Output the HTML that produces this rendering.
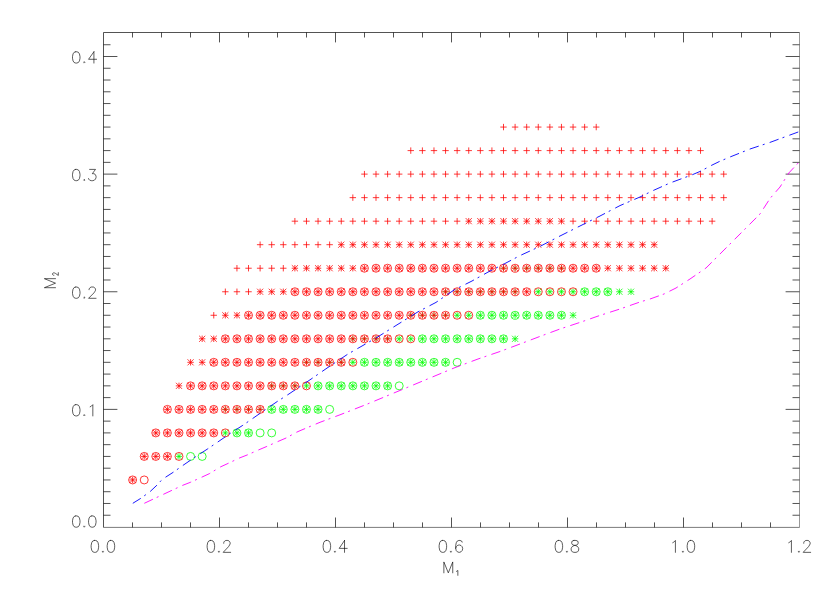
<!DOCTYPE html>
<html><head><meta charset="utf-8"><title>M1-M2</title>
<style>
html,body{margin:0;padding:0;background:#fff;}
body{width:830px;height:593px;overflow:hidden;font-family:"Liberation Sans",sans-serif;}
svg{display:block}
</style></head><body>
<svg width="830" height="593" viewBox="0 0 830 593">
<rect width="830" height="593" fill="#fff"/>
<g fill="none" stroke="#000" stroke-width="0.8" stroke-opacity="0.85">
<path d="M103.5 527.4V32.5H799.5"/>
<path stroke-opacity="0.5" d="M799.5 32.5V527.4"/>
<path stroke-opacity="0.65" d="M103.5 527.4H799.5"/>
<path d="M132.5 527.4v-5.0M132.5 32.5v5.0M161.5 527.4v-5.0M161.5 32.5v5.0M190.5 527.4v-5.0M190.5 32.5v5.0M219.5 527.4v-9.9M219.5 32.5v9.9M248.5 527.4v-5.0M248.5 32.5v5.0M277.5 527.4v-5.0M277.5 32.5v5.0M306.5 527.4v-5.0M306.5 32.5v5.0M335.5 527.4v-9.9M335.5 32.5v9.9M364.5 527.4v-5.0M364.5 32.5v5.0M393.5 527.4v-5.0M393.5 32.5v5.0M422.5 527.4v-5.0M422.5 32.5v5.0M451.5 527.4v-9.9M451.5 32.5v9.9M480.5 527.4v-5.0M480.5 32.5v5.0M509.5 527.4v-5.0M509.5 32.5v5.0M538.5 527.4v-5.0M538.5 32.5v5.0M567.5 527.4v-9.9M567.5 32.5v9.9M596.5 527.4v-5.0M596.5 32.5v5.0M625.5 527.4v-5.0M625.5 32.5v5.0M654.5 527.4v-5.0M654.5 32.5v5.0M683.5 527.4v-9.9M683.5 32.5v9.9M712.5 527.4v-5.0M712.5 32.5v5.0M741.5 527.4v-5.0M741.5 32.5v5.0M770.5 527.4v-5.0M770.5 32.5v5.0M103.5 515.24h7.0M799.5 515.24h-7.0M103.5 503.48h7.0M799.5 503.48h-7.0M103.5 491.71h7.0M799.5 491.71h-7.0M103.5 479.95h7.0M799.5 479.95h-7.0M103.5 468.19h7.0M799.5 468.19h-7.0M103.5 456.43h7.0M799.5 456.43h-7.0M103.5 444.66h7.0M799.5 444.66h-7.0M103.5 432.90h7.0M799.5 432.90h-7.0M103.5 421.14h7.0M799.5 421.14h-7.0M103.5 409.38h13.9M799.5 409.38h-13.9M103.5 397.61h7.0M799.5 397.61h-7.0M103.5 385.85h7.0M799.5 385.85h-7.0M103.5 374.09h7.0M799.5 374.09h-7.0M103.5 362.32h7.0M799.5 362.32h-7.0M103.5 350.56h7.0M799.5 350.56h-7.0M103.5 338.80h7.0M799.5 338.80h-7.0M103.5 327.04h7.0M799.5 327.04h-7.0M103.5 315.27h7.0M799.5 315.27h-7.0M103.5 303.51h7.0M799.5 303.51h-7.0M103.5 291.75h13.9M799.5 291.75h-13.9M103.5 279.99h7.0M799.5 279.99h-7.0M103.5 268.22h7.0M799.5 268.22h-7.0M103.5 256.46h7.0M799.5 256.46h-7.0M103.5 244.70h7.0M799.5 244.70h-7.0M103.5 232.94h7.0M799.5 232.94h-7.0M103.5 221.17h7.0M799.5 221.17h-7.0M103.5 209.41h7.0M799.5 209.41h-7.0M103.5 197.65h7.0M799.5 197.65h-7.0M103.5 185.89h7.0M799.5 185.89h-7.0M103.5 174.12h13.9M799.5 174.12h-13.9M103.5 162.36h7.0M799.5 162.36h-7.0M103.5 150.60h7.0M799.5 150.60h-7.0M103.5 138.84h7.0M799.5 138.84h-7.0M103.5 127.07h7.0M799.5 127.07h-7.0M103.5 115.31h7.0M799.5 115.31h-7.0M103.5 103.55h7.0M799.5 103.55h-7.0M103.5 91.79h7.0M799.5 91.79h-7.0M103.5 80.02h7.0M799.5 80.02h-7.0M103.5 68.26h7.0M799.5 68.26h-7.0M103.5 56.50h13.9M799.5 56.50h-13.9M103.5 44.74h7.0M799.5 44.74h-7.0"/>
</g>
<g fill="none" stroke="#000" stroke-width="0.8" stroke-opacity="0.8" stroke-linecap="round" stroke-linejoin="round">
<path d="M94.34 540.44L92.73 541.01L91.67 542.71L91.13 545.55L91.13 547.25L91.67 550.08L92.73 551.78L94.34 552.35L95.41 552.35L97.02 551.78L98.09 550.08L98.62 547.25L98.62 545.55L98.09 542.71L97.02 541.01L95.41 540.44L94.34 540.44M102.90 551.22L102.37 551.78L102.90 552.35L103.44 551.78L102.90 551.22M110.39 540.44L108.78 541.01L107.72 542.71L107.18 545.55L107.18 547.25L107.72 550.08L108.78 551.78L110.39 552.35L111.46 552.35L113.06 551.78L114.14 550.08L114.67 547.25L114.67 545.55L114.14 542.71L113.06 541.01L111.46 540.44L110.39 540.44M210.34 540.44L208.74 541.01L207.66 542.71L207.13 545.55L207.13 547.25L207.66 550.08L208.74 551.78L210.34 552.35L211.41 552.35L213.02 551.78L214.09 550.08L214.62 547.25L214.62 545.55L214.09 542.71L213.02 541.01L211.41 540.44L210.34 540.44M218.90 551.22L218.36 551.78L218.90 552.35L219.44 551.78L218.90 551.22M223.71 543.28L223.71 542.71L224.25 541.58L224.78 541.01L225.85 540.44L227.99 540.44L229.06 541.01L229.60 541.58L230.13 542.71L230.13 543.85L229.60 544.98L228.53 546.68L223.18 552.35L230.67 552.35M326.34 540.44L324.73 541.01L323.66 542.71L323.13 545.55L323.13 547.25L323.66 550.08L324.73 551.78L326.34 552.35L327.41 552.35L329.01 551.78L330.08 550.08L330.62 547.25L330.62 545.55L330.08 542.71L329.01 541.01L327.41 540.44L326.34 540.44M334.90 551.22L334.36 551.78L334.90 552.35L335.43 551.78L334.90 551.22M344.53 540.44L339.18 548.38L347.20 548.38M344.53 540.44L344.53 552.35M442.34 540.44L440.73 541.01L439.66 542.71L439.13 545.55L439.13 547.25L439.66 550.08L440.73 551.78L442.34 552.35L443.41 552.35L445.01 551.78L446.08 550.08L446.62 547.25L446.62 545.55L446.08 542.71L445.01 541.01L443.41 540.44L442.34 540.44M450.90 551.22L450.36 551.78L450.90 552.35L451.43 551.78L450.90 551.22M462.13 542.14L461.60 541.01L460.00 540.44L458.93 540.44L457.32 541.01L456.25 542.71L455.71 545.55L455.71 548.38L456.25 550.65L457.32 551.78L458.93 552.35L459.46 552.35L461.06 551.78L462.13 550.65L462.67 548.95L462.67 548.38L462.13 546.68L461.06 545.55L459.46 544.98L458.93 544.98L457.32 545.55L456.25 546.68L455.71 548.38M558.34 540.44L556.74 541.01L555.66 542.71L555.13 545.55L555.13 547.25L555.66 550.08L556.74 551.78L558.34 552.35L559.41 552.35L561.01 551.78L562.08 550.08L562.62 547.25L562.62 545.55L562.08 542.71L561.01 541.01L559.41 540.44L558.34 540.44M566.90 551.22L566.37 551.78L566.90 552.35L567.44 551.78L566.90 551.22M573.86 540.44L572.25 541.01L571.72 542.14L571.72 543.28L572.25 544.41L573.32 544.98L575.46 545.55L577.07 546.11L578.13 547.25L578.67 548.38L578.67 550.08L578.13 551.22L577.60 551.78L576.00 552.35L573.86 552.35L572.25 551.78L571.72 551.22L571.18 550.08L571.18 548.38L571.72 547.25L572.79 546.11L574.39 545.55L576.53 544.98L577.60 544.41L578.13 543.28L578.13 542.14L577.60 541.01L576.00 540.44L573.86 540.44M672.74 542.71L673.80 542.14L675.41 540.44L675.41 552.35M682.90 551.22L682.37 551.78L682.90 552.35L683.44 551.78L682.90 551.22M690.39 540.44L688.79 541.01L687.72 542.71L687.18 545.55L687.18 547.25L687.72 550.08L688.79 551.78L690.39 552.35L691.46 552.35L693.07 551.78L694.13 550.08L694.67 547.25L694.67 545.55L694.13 542.71L693.07 541.01L691.46 540.44L690.39 540.44M788.74 542.71L789.80 542.14L791.41 540.44L791.41 552.35M798.90 551.22L798.37 551.78L798.90 552.35L799.44 551.78L798.90 551.22M803.72 543.28L803.72 542.71L804.25 541.58L804.79 541.01L805.86 540.44L808.00 540.44L809.07 541.01L809.60 541.58L810.13 542.71L810.13 543.85L809.60 544.98L808.53 546.68L803.18 552.35L810.67 552.35M75.72 515.92L74.11 516.46L73.04 518.07L72.51 520.76L72.51 522.37L73.04 525.05L74.11 526.66L75.72 527.20L76.79 527.20L78.39 526.66L79.46 525.05L80.00 522.37L80.00 520.76L79.46 518.07L78.39 516.46L76.79 515.92L75.72 515.92M84.28 526.13L83.74 526.66L84.28 527.20L84.81 526.66L84.28 526.13M91.77 515.92L90.16 516.46L89.09 518.07L88.56 520.76L88.56 522.37L89.09 525.05L90.16 526.66L91.77 527.20L92.84 527.20L94.44 526.66L95.51 525.05L96.05 522.37L96.05 520.76L95.51 518.07L94.44 516.46L92.84 515.92L91.77 515.92M75.72 404.65L74.11 405.19L73.04 406.80L72.51 409.48L72.51 411.09L73.04 413.78L74.11 415.39L75.72 415.93L76.79 415.93L78.39 415.39L79.46 413.78L80.00 411.09L80.00 409.48L79.46 406.80L78.39 405.19L76.79 404.65L75.72 404.65M84.28 414.85L83.74 415.39L84.28 415.93L84.81 415.39L84.28 414.85M90.16 406.80L91.23 406.26L92.84 404.65L92.84 415.93M75.72 287.02L74.11 287.56L73.04 289.17L72.51 291.86L72.51 293.47L73.04 296.15L74.11 297.76L75.72 298.30L76.79 298.30L78.39 297.76L79.46 296.15L80.00 293.47L80.00 291.86L79.46 289.17L78.39 287.56L76.79 287.02L75.72 287.02M84.28 297.23L83.74 297.76L84.28 298.30L84.81 297.76L84.28 297.23M89.09 289.71L89.09 289.17L89.62 288.10L90.16 287.56L91.23 287.02L93.37 287.02L94.44 287.56L94.98 288.10L95.51 289.17L95.51 290.25L94.98 291.32L93.91 292.93L88.56 298.30L96.05 298.30M75.72 169.40L74.11 169.94L73.04 171.55L72.51 174.23L72.51 175.84L73.04 178.53L74.11 180.14L75.72 180.68L76.79 180.68L78.39 180.14L79.46 178.53L80.00 175.84L80.00 174.23L79.46 171.55L78.39 169.94L76.79 169.40L75.72 169.40M84.28 179.60L83.74 180.14L84.28 180.68L84.81 180.14L84.28 179.60M89.62 169.40L95.51 169.40L92.30 173.69L93.91 173.69L94.98 174.23L95.51 174.77L96.05 176.38L96.05 177.45L95.51 179.06L94.44 180.14L92.84 180.68L91.23 180.68L89.62 180.14L89.09 179.60L88.56 178.53M75.72 51.77L74.11 52.31L73.04 53.92L72.51 56.61L72.51 58.22L73.04 60.90L74.11 62.51L75.72 63.05L76.79 63.05L78.39 62.51L79.46 60.90L80.00 58.22L80.00 56.61L79.46 53.92L78.39 52.31L76.79 51.77L75.72 51.77M84.28 61.98L83.74 62.51L84.28 63.05L84.81 62.51L84.28 61.98M93.91 51.77L88.56 59.29L96.58 59.29M93.91 51.77L93.91 63.05M443.86 572.85L443.86 561.93L448.30 572.85L452.74 561.93L452.74 572.85"/>
<path d="M456.50 571.36L457.04 571.12L457.85 570.42L457.85 575.35"/>
<g transform="translate(55.5 287.7) rotate(-90)"><path d="M0.00 0.00L0.00 -11.13L4.52 0.00L9.04 -11.13L9.04 0.00"/><path d="M12.45 -1.60L12.45 -1.88L12.65 -2.43L12.85 -2.70L13.25 -2.98L14.05 -2.98L14.45 -2.70L14.65 -2.43L14.85 -1.88L14.85 -1.33L14.65 -0.78L14.25 0.05L12.25 2.80L15.05 2.80"/></g>
</g>
<g fill="none" stroke-width="0.78">
<path stroke="#0f0" stroke-opacity="0.75" d="M222.15 409.38H228.54M225.34 406.18V412.57M233.74 409.38H240.13M236.94 406.18V412.57M245.33 409.38H251.72M248.53 406.18V412.57M256.92 409.38H263.31M260.12 406.18V412.57M268.50 385.85H274.90M271.70 382.65V389.05M280.10 385.85H286.50M283.30 382.65V389.05M291.69 385.85H298.08M294.88 382.65V389.05M303.28 362.32H309.68M306.48 359.12V365.52M314.87 362.32H321.26M318.06 359.12V365.52M326.45 362.32H332.85M329.65 359.12V365.52M338.05 362.32H344.44M341.25 359.12V365.52M349.64 338.80H356.04M352.84 335.60V342.00M361.23 338.80H367.63M364.43 335.60V342.00M372.81 338.80H379.21M376.01 335.60V342.00M384.41 338.80H390.81M387.61 335.60V342.00M407.58 315.27H413.98M410.78 312.07V318.47M419.18 315.27H425.57M422.38 312.07V318.47M430.77 315.27H437.17M433.97 312.07V318.47M442.35 315.27H448.75M445.55 312.07V318.47M442.35 291.75H448.75M445.55 288.55V294.95M453.94 291.75H460.34M457.14 288.55V294.95M465.54 291.75H471.94M468.74 288.55V294.95M477.13 291.75H483.53M480.33 288.55V294.95M488.72 291.75H495.12M491.92 288.55V294.95M500.31 291.75H506.70M503.50 288.55V294.95M511.90 291.75H518.30M515.10 288.55V294.95M500.31 268.23H506.70M503.50 265.03V271.43M511.90 268.23H518.30M515.10 265.03V271.43M523.48 268.23H529.88M526.68 265.03V271.43M535.07 268.23H541.48M538.27 265.03V271.43M546.66 268.23H553.07M549.87 265.03V271.43M558.25 268.23H564.66M561.46 265.03V271.43"/>
<path stroke="#f00" d="M129.43 479.95H135.82M132.62 476.75V483.15M129.57 476.90L135.68 483.00M129.57 483.00L135.68 476.90M141.02 456.43H147.41M144.22 453.23V459.62M141.16 453.38L147.27 459.48M141.16 459.48L147.27 453.38M152.61 456.43H159.00M155.81 453.23V459.62M152.75 453.38L158.86 459.48M152.75 459.48L158.86 453.38M164.20 456.43H170.59M167.40 453.23V459.62M164.34 453.38L170.45 459.48M164.34 459.48L170.45 453.38M152.61 432.90H159.00M155.81 429.70V436.10M152.75 429.85L158.86 435.95M152.75 435.95L158.86 429.85M164.20 432.90H170.59M167.40 429.70V436.10M164.34 429.85L170.45 435.95M164.34 435.95L170.45 429.85M175.79 432.90H182.19M178.99 429.70V436.10M175.94 429.85L182.04 435.95M175.94 435.95L182.04 429.85M187.38 432.90H193.77M190.57 429.70V436.10M187.52 429.85L193.62 435.95M187.52 435.95L193.62 429.85M198.97 432.90H205.37M202.17 429.70V436.10M199.12 429.85L205.22 435.95M199.12 435.95L205.22 429.85M210.56 432.90H216.95M213.75 429.70V436.10M210.70 429.85L216.81 435.95M210.70 435.95L216.81 429.85M164.20 409.38H170.59M167.40 406.18V412.57M164.34 406.32L170.45 412.43M164.34 412.43L170.45 406.32M175.79 409.38H182.19M178.99 406.18V412.57M175.94 406.32L182.04 412.43M175.94 412.43L182.04 406.32M187.38 409.38H193.77M190.57 406.18V412.57M187.52 406.32L193.62 412.43M187.52 412.43L193.62 406.32M198.97 409.38H205.37M202.17 406.18V412.57M199.12 406.32L205.22 412.43M199.12 412.43L205.22 406.32M210.56 409.38H216.95M213.75 406.18V412.57M210.70 406.32L216.81 412.43M210.70 412.43L216.81 406.32M222.15 409.38H228.54M225.34 406.18V412.57M222.29 406.32L228.40 412.43M222.29 412.43L228.40 406.32M233.74 409.38H240.13M236.94 406.18V412.57M233.88 406.32L239.99 412.43M233.88 412.43L239.99 406.32M245.33 409.38H251.72M248.53 406.18V412.57M245.47 406.32L251.58 412.43M245.47 412.43L251.58 406.32M256.92 409.38H263.31M260.12 406.18V412.57M257.06 406.32L263.17 412.43M257.06 412.43L263.17 406.32M175.79 385.85H182.19M178.99 382.65V389.05M175.94 382.80L182.04 388.90M175.94 388.90L182.04 382.80M187.38 385.85H193.77M190.57 382.65V389.05M187.52 382.80L193.62 388.90M187.52 388.90L193.62 382.80M198.97 385.85H205.37M202.17 382.65V389.05M199.12 382.80L205.22 388.90M199.12 388.90L205.22 382.80M210.56 385.85H216.95M213.75 382.65V389.05M210.70 382.80L216.81 388.90M210.70 388.90L216.81 382.80M222.15 385.85H228.54M225.34 382.65V389.05M222.29 382.80L228.40 388.90M222.29 388.90L228.40 382.80M233.74 385.85H240.13M236.94 382.65V389.05M233.88 382.80L239.99 388.90M233.88 388.90L239.99 382.80M245.33 385.85H251.72M248.53 382.65V389.05M245.47 382.80L251.58 388.90M245.47 388.90L251.58 382.80M256.92 385.85H263.31M260.12 382.65V389.05M257.06 382.80L263.17 388.90M257.06 388.90L263.17 382.80M268.50 385.85H274.90M271.70 382.65V389.05M268.65 382.80L274.75 388.90M268.65 388.90L274.75 382.80M280.10 385.85H286.50M283.30 382.65V389.05M280.25 382.80L286.35 388.90M280.25 388.90L286.35 382.80M291.69 385.85H298.08M294.88 382.65V389.05M291.83 382.80L297.94 388.90M291.83 388.90L297.94 382.80M187.38 362.32H193.77M190.57 359.12V365.52M187.52 359.27L193.62 365.38M187.52 365.38L193.62 359.27M198.97 362.32H205.37M202.17 359.12V365.52M199.12 359.27L205.22 365.38M199.12 365.38L205.22 359.27M210.56 362.32H216.95M213.75 359.12V365.52M210.70 359.27L216.81 365.38M210.70 365.38L216.81 359.27M222.15 362.32H228.54M225.34 359.12V365.52M222.29 359.27L228.40 365.38M222.29 365.38L228.40 359.27M233.74 362.32H240.13M236.94 359.12V365.52M233.88 359.27L239.99 365.38M233.88 365.38L239.99 359.27M245.33 362.32H251.72M248.53 359.12V365.52M245.47 359.27L251.58 365.38M245.47 365.38L251.58 359.27M256.92 362.32H263.31M260.12 359.12V365.52M257.06 359.27L263.17 365.38M257.06 365.38L263.17 359.27M268.50 362.32H274.90M271.70 359.12V365.52M268.65 359.27L274.75 365.38M268.65 365.38L274.75 359.27M280.10 362.32H286.50M283.30 359.12V365.52M280.25 359.27L286.35 365.38M280.25 365.38L286.35 359.27M291.69 362.32H298.08M294.88 359.12V365.52M291.83 359.27L297.94 365.38M291.83 365.38L297.94 359.27M303.28 362.32H309.68M306.48 359.12V365.52M303.43 359.27L309.53 365.38M303.43 365.38L309.53 359.27M314.87 362.32H321.26M318.06 359.12V365.52M315.01 359.27L321.12 365.38M315.01 365.38L321.12 359.27M326.45 362.32H332.85M329.65 359.12V365.52M326.60 359.27L332.70 365.38M326.60 365.38L332.70 359.27M338.05 362.32H344.44M341.25 359.12V365.52M338.19 359.27L344.30 365.38M338.19 365.38L344.30 359.27M198.97 338.80H205.37M202.17 335.60V342.00M199.12 335.75L205.22 341.85M199.12 341.85L205.22 335.75M210.56 338.80H216.95M213.75 335.60V342.00M210.70 335.75L216.81 341.85M210.70 341.85L216.81 335.75M222.15 338.80H228.54M225.34 335.60V342.00M222.29 335.75L228.40 341.85M222.29 341.85L228.40 335.75M233.74 338.80H240.13M236.94 335.60V342.00M233.88 335.75L239.99 341.85M233.88 341.85L239.99 335.75M245.33 338.80H251.72M248.53 335.60V342.00M245.47 335.75L251.58 341.85M245.47 341.85L251.58 335.75M256.92 338.80H263.31M260.12 335.60V342.00M257.06 335.75L263.17 341.85M257.06 341.85L263.17 335.75M268.50 338.80H274.90M271.70 335.60V342.00M268.65 335.75L274.75 341.85M268.65 341.85L274.75 335.75M280.10 338.80H286.50M283.30 335.60V342.00M280.25 335.75L286.35 341.85M280.25 341.85L286.35 335.75M291.69 338.80H298.08M294.88 335.60V342.00M291.83 335.75L297.94 341.85M291.83 341.85L297.94 335.75M303.28 338.80H309.68M306.48 335.60V342.00M303.43 335.75L309.53 341.85M303.43 341.85L309.53 335.75M314.87 338.80H321.26M318.06 335.60V342.00M315.01 335.75L321.12 341.85M315.01 341.85L321.12 335.75M326.45 338.80H332.85M329.65 335.60V342.00M326.60 335.75L332.70 341.85M326.60 341.85L332.70 335.75M338.05 338.80H344.44M341.25 335.60V342.00M338.19 335.75L344.30 341.85M338.19 341.85L344.30 335.75M349.64 338.80H356.04M352.84 335.60V342.00M349.79 335.75L355.89 341.85M349.79 341.85L355.89 335.75M361.23 338.80H367.63M364.43 335.60V342.00M361.38 335.75L367.48 341.85M361.38 341.85L367.48 335.75M372.81 338.80H379.21M376.01 335.60V342.00M372.96 335.75L379.06 341.85M372.96 341.85L379.06 335.75M384.41 338.80H390.81M387.61 335.60V342.00M384.56 335.75L390.66 341.85M384.56 341.85L390.66 335.75M210.56 315.27H216.95M213.75 312.07V318.47M222.15 315.27H228.54M225.34 312.07V318.47M222.29 312.22L228.40 318.32M222.29 318.32L228.40 312.22M233.74 315.27H240.13M236.94 312.07V318.47M233.88 312.22L239.99 318.32M233.88 318.32L239.99 312.22M245.33 315.27H251.72M248.53 312.07V318.47M245.47 312.22L251.58 318.32M245.47 318.32L251.58 312.22M256.92 315.27H263.31M260.12 312.07V318.47M257.06 312.22L263.17 318.32M257.06 318.32L263.17 312.22M268.50 315.27H274.90M271.70 312.07V318.47M268.65 312.22L274.75 318.32M268.65 318.32L274.75 312.22M280.10 315.27H286.50M283.30 312.07V318.47M280.25 312.22L286.35 318.32M280.25 318.32L286.35 312.22M291.69 315.27H298.08M294.88 312.07V318.47M291.83 312.22L297.94 318.32M291.83 318.32L297.94 312.22M303.28 315.27H309.68M306.48 312.07V318.47M303.43 312.22L309.53 318.32M303.43 318.32L309.53 312.22M314.87 315.27H321.26M318.06 312.07V318.47M315.01 312.22L321.12 318.32M315.01 318.32L321.12 312.22M326.45 315.27H332.85M329.65 312.07V318.47M326.60 312.22L332.70 318.32M326.60 318.32L332.70 312.22M338.05 315.27H344.44M341.25 312.07V318.47M338.19 312.22L344.30 318.32M338.19 318.32L344.30 312.22M349.64 315.27H356.04M352.84 312.07V318.47M349.79 312.22L355.89 318.32M349.79 318.32L355.89 312.22M361.23 315.27H367.63M364.43 312.07V318.47M361.38 312.22L367.48 318.32M361.38 318.32L367.48 312.22M372.81 315.27H379.21M376.01 312.07V318.47M372.96 312.22L379.06 318.32M372.96 318.32L379.06 312.22M384.41 315.27H390.81M387.61 312.07V318.47M384.56 312.22L390.66 318.32M384.56 318.32L390.66 312.22M396.00 315.27H402.40M399.20 312.07V318.47M396.15 312.22L402.25 318.32M396.15 318.32L402.25 312.22M407.58 315.27H413.98M410.78 312.07V318.47M407.73 312.22L413.83 318.32M407.73 318.32L413.83 312.22M419.18 315.27H425.57M422.38 312.07V318.47M419.32 312.22L425.43 318.32M419.32 318.32L425.43 312.22M430.77 315.27H437.17M433.97 312.07V318.47M430.92 312.22L437.02 318.32M430.92 318.32L437.02 312.22M442.35 315.27H448.75M445.55 312.07V318.47M442.50 312.22L448.60 318.32M442.50 318.32L448.60 312.22M222.15 291.75H228.54M225.34 288.55V294.95M233.74 291.75H240.13M236.94 288.55V294.95M245.33 291.75H251.72M248.53 288.55V294.95M256.92 291.75H263.31M260.12 288.55V294.95M257.06 288.70L263.17 294.80M257.06 294.80L263.17 288.70M268.50 291.75H274.90M271.70 288.55V294.95M268.65 288.70L274.75 294.80M268.65 294.80L274.75 288.70M280.10 291.75H286.50M283.30 288.55V294.95M280.25 288.70L286.35 294.80M280.25 294.80L286.35 288.70M291.69 291.75H298.08M294.88 288.55V294.95M291.83 288.70L297.94 294.80M291.83 294.80L297.94 288.70M303.28 291.75H309.68M306.48 288.55V294.95M303.43 288.70L309.53 294.80M303.43 294.80L309.53 288.70M314.87 291.75H321.26M318.06 288.55V294.95M315.01 288.70L321.12 294.80M315.01 294.80L321.12 288.70M326.45 291.75H332.85M329.65 288.55V294.95M326.60 288.70L332.70 294.80M326.60 294.80L332.70 288.70M338.05 291.75H344.44M341.25 288.55V294.95M338.19 288.70L344.30 294.80M338.19 294.80L344.30 288.70M349.64 291.75H356.04M352.84 288.55V294.95M349.79 288.70L355.89 294.80M349.79 294.80L355.89 288.70M361.23 291.75H367.63M364.43 288.55V294.95M361.38 288.70L367.48 294.80M361.38 294.80L367.48 288.70M372.81 291.75H379.21M376.01 288.55V294.95M372.96 288.70L379.06 294.80M372.96 294.80L379.06 288.70M384.41 291.75H390.81M387.61 288.55V294.95M384.56 288.70L390.66 294.80M384.56 294.80L390.66 288.70M396.00 291.75H402.40M399.20 288.55V294.95M396.15 288.70L402.25 294.80M396.15 294.80L402.25 288.70M407.58 291.75H413.98M410.78 288.55V294.95M407.73 288.70L413.83 294.80M407.73 294.80L413.83 288.70M419.18 291.75H425.57M422.38 288.55V294.95M419.32 288.70L425.43 294.80M419.32 294.80L425.43 288.70M430.77 291.75H437.17M433.97 288.55V294.95M430.92 288.70L437.02 294.80M430.92 294.80L437.02 288.70M442.35 291.75H448.75M445.55 288.55V294.95M442.50 288.70L448.60 294.80M442.50 294.80L448.60 288.70M453.94 291.75H460.34M457.14 288.55V294.95M454.09 288.70L460.19 294.80M454.09 294.80L460.19 288.70M465.54 291.75H471.94M468.74 288.55V294.95M465.69 288.70L471.79 294.80M465.69 294.80L471.79 288.70M477.13 291.75H483.53M480.33 288.55V294.95M477.28 288.70L483.38 294.80M477.28 294.80L483.38 288.70M488.72 291.75H495.12M491.92 288.55V294.95M488.87 288.70L494.97 294.80M488.87 294.80L494.97 288.70M500.31 291.75H506.70M503.50 288.55V294.95M500.45 288.70L506.56 294.80M500.45 294.80L506.56 288.70M511.90 291.75H518.30M515.10 288.55V294.95M512.05 288.70L518.14 294.80M512.05 294.80L518.14 288.70M523.48 291.75H529.88M526.68 288.55V294.95M523.63 288.70L529.73 294.80M523.63 294.80L529.73 288.70M233.74 268.23H240.13M236.94 265.03V271.43M245.33 268.23H251.72M248.53 265.03V271.43M256.92 268.23H263.31M260.12 265.03V271.43M268.50 268.23H274.90M271.70 265.03V271.43M280.10 268.23H286.50M283.30 265.03V271.43M291.69 268.23H298.08M294.88 265.03V271.43M291.83 265.18L297.94 271.28M291.83 271.28L297.94 265.18M303.28 268.23H309.68M306.48 265.03V271.43M303.43 265.18L309.53 271.28M303.43 271.28L309.53 265.18M314.87 268.23H321.26M318.06 265.03V271.43M315.01 265.18L321.12 271.28M315.01 271.28L321.12 265.18M326.45 268.23H332.85M329.65 265.03V271.43M326.60 265.18L332.70 271.28M326.60 271.28L332.70 265.18M338.05 268.23H344.44M341.25 265.03V271.43M338.19 265.18L344.30 271.28M338.19 271.28L344.30 265.18M349.64 268.23H356.04M352.84 265.03V271.43M349.79 265.18L355.89 271.28M349.79 271.28L355.89 265.18M361.23 268.23H367.63M364.43 265.03V271.43M361.38 265.18L367.48 271.28M361.38 271.28L367.48 265.18M372.81 268.23H379.21M376.01 265.03V271.43M372.96 265.18L379.06 271.28M372.96 271.28L379.06 265.18M384.41 268.23H390.81M387.61 265.03V271.43M384.56 265.18L390.66 271.28M384.56 271.28L390.66 265.18M396.00 268.23H402.40M399.20 265.03V271.43M396.15 265.18L402.25 271.28M396.15 271.28L402.25 265.18M407.58 268.23H413.98M410.78 265.03V271.43M407.73 265.18L413.83 271.28M407.73 271.28L413.83 265.18M419.18 268.23H425.57M422.38 265.03V271.43M419.32 265.18L425.43 271.28M419.32 271.28L425.43 265.18M430.77 268.23H437.17M433.97 265.03V271.43M430.92 265.18L437.02 271.28M430.92 271.28L437.02 265.18M442.35 268.23H448.75M445.55 265.03V271.43M442.50 265.18L448.60 271.28M442.50 271.28L448.60 265.18M453.94 268.23H460.34M457.14 265.03V271.43M454.09 265.18L460.19 271.28M454.09 271.28L460.19 265.18M465.54 268.23H471.94M468.74 265.03V271.43M465.69 265.18L471.79 271.28M465.69 271.28L471.79 265.18M477.13 268.23H483.53M480.33 265.03V271.43M477.28 265.18L483.38 271.28M477.28 271.28L483.38 265.18M488.72 268.23H495.12M491.92 265.03V271.43M488.87 265.18L494.97 271.28M488.87 271.28L494.97 265.18M500.31 268.23H506.70M503.50 265.03V271.43M500.45 265.18L506.56 271.28M500.45 271.28L506.56 265.18M511.90 268.23H518.30M515.10 265.03V271.43M512.05 265.18L518.14 271.28M512.05 271.28L518.14 265.18M523.48 268.23H529.88M526.68 265.03V271.43M523.63 265.18L529.73 271.28M523.63 271.28L529.73 265.18M535.07 268.23H541.48M538.27 265.03V271.43M535.23 265.18L541.32 271.28M535.23 271.28L541.32 265.18M546.66 268.23H553.07M549.87 265.03V271.43M546.82 265.18L552.91 271.28M546.82 271.28L552.91 265.18M558.25 268.23H564.66M561.46 265.03V271.43M558.41 265.18L564.50 271.28M558.41 271.28L564.50 265.18M569.85 268.23H576.25M573.05 265.03V271.43M570.00 265.18L576.10 271.28M570.00 271.28L576.10 265.18M581.43 268.23H587.84M584.63 265.03V271.43M581.59 265.18L587.68 271.28M581.59 271.28L587.68 265.18M593.02 268.23H599.43M596.23 265.03V271.43M593.18 265.18L599.27 271.28M593.18 271.28L599.27 265.18M604.62 268.23H611.02M607.82 265.03V271.43M604.77 265.18L610.87 271.28M604.77 271.28L610.87 265.18M616.20 268.23H622.61M619.40 265.03V271.43M616.36 265.18L622.45 271.28M616.36 271.28L622.45 265.18M627.79 268.23H634.20M631.00 265.03V271.43M627.95 265.18L634.04 271.28M627.95 271.28L634.04 265.18M639.38 268.23H645.79M642.59 265.03V271.43M639.54 265.18L645.63 271.28M639.54 271.28L645.63 265.18M650.97 268.23H657.38M654.17 265.03V271.43M651.12 265.18L657.22 271.28M651.12 271.28L657.22 265.18M662.56 268.23H668.97M665.76 265.03V271.43M662.72 265.18L668.81 271.28M662.72 271.28L668.81 265.18M256.92 244.70H263.31M260.12 241.50V247.90M268.50 244.70H274.90M271.70 241.50V247.90M280.10 244.70H286.50M283.30 241.50V247.90M291.69 244.70H298.08M294.88 241.50V247.90M303.28 244.70H309.68M306.48 241.50V247.90M314.87 244.70H321.26M318.06 241.50V247.90M326.45 244.70H332.85M329.65 241.50V247.90M338.05 244.70H344.44M341.25 241.50V247.90M338.19 241.65L344.30 247.75M338.19 247.75L344.30 241.65M349.64 244.70H356.04M352.84 241.50V247.90M349.79 241.65L355.89 247.75M349.79 247.75L355.89 241.65M361.23 244.70H367.63M364.43 241.50V247.90M361.38 241.65L367.48 247.75M361.38 247.75L367.48 241.65M372.81 244.70H379.21M376.01 241.50V247.90M372.96 241.65L379.06 247.75M372.96 247.75L379.06 241.65M384.41 244.70H390.81M387.61 241.50V247.90M384.56 241.65L390.66 247.75M384.56 247.75L390.66 241.65M396.00 244.70H402.40M399.20 241.50V247.90M396.15 241.65L402.25 247.75M396.15 247.75L402.25 241.65M407.58 244.70H413.98M410.78 241.50V247.90M407.73 241.65L413.83 247.75M407.73 247.75L413.83 241.65M419.18 244.70H425.57M422.38 241.50V247.90M419.32 241.65L425.43 247.75M419.32 247.75L425.43 241.65M430.77 244.70H437.17M433.97 241.50V247.90M430.92 241.65L437.02 247.75M430.92 247.75L437.02 241.65M442.35 244.70H448.75M445.55 241.50V247.90M442.50 241.65L448.60 247.75M442.50 247.75L448.60 241.65M453.94 244.70H460.34M457.14 241.50V247.90M454.09 241.65L460.19 247.75M454.09 247.75L460.19 241.65M465.54 244.70H471.94M468.74 241.50V247.90M465.69 241.65L471.79 247.75M465.69 247.75L471.79 241.65M477.13 244.70H483.53M480.33 241.50V247.90M477.28 241.65L483.38 247.75M477.28 247.75L483.38 241.65M488.72 244.70H495.12M491.92 241.50V247.90M488.87 241.65L494.97 247.75M488.87 247.75L494.97 241.65M500.31 244.70H506.70M503.50 241.50V247.90M500.45 241.65L506.56 247.75M500.45 247.75L506.56 241.65M511.90 244.70H518.30M515.10 241.50V247.90M512.05 241.65L518.14 247.75M512.05 247.75L518.14 241.65M523.48 244.70H529.88M526.68 241.50V247.90M523.63 241.65L529.73 247.75M523.63 247.75L529.73 241.65M535.07 244.70H541.48M538.27 241.50V247.90M535.23 241.65L541.32 247.75M535.23 247.75L541.32 241.65M546.66 244.70H553.07M549.87 241.50V247.90M546.82 241.65L552.91 247.75M546.82 247.75L552.91 241.65M558.25 244.70H564.66M561.46 241.50V247.90M558.41 241.65L564.50 247.75M558.41 247.75L564.50 241.65M569.85 244.70H576.25M573.05 241.50V247.90M570.00 241.65L576.10 247.75M570.00 247.75L576.10 241.65M581.43 244.70H587.84M584.63 241.50V247.90M581.59 241.65L587.68 247.75M581.59 247.75L587.68 241.65M593.02 244.70H599.43M596.23 241.50V247.90M593.18 241.65L599.27 247.75M593.18 247.75L599.27 241.65M604.62 244.70H611.02M607.82 241.50V247.90M604.77 241.65L610.87 247.75M604.77 247.75L610.87 241.65M616.20 244.70H622.61M619.40 241.50V247.90M616.36 241.65L622.45 247.75M616.36 247.75L622.45 241.65M627.79 244.70H634.20M631.00 241.50V247.90M627.95 241.65L634.04 247.75M627.95 247.75L634.04 241.65M639.38 244.70H645.79M642.59 241.50V247.90M639.54 241.65L645.63 247.75M639.54 247.75L645.63 241.65M650.97 244.70H657.38M654.17 241.50V247.90M651.12 241.65L657.22 247.75M651.12 247.75L657.22 241.65M291.69 221.18H298.08M294.88 217.98V224.38M303.28 221.18H309.68M306.48 217.98V224.38M314.87 221.18H321.26M318.06 217.98V224.38M326.45 221.18H332.85M329.65 217.98V224.38M338.05 221.18H344.44M341.25 217.98V224.38M349.64 221.18H356.04M352.84 217.98V224.38M361.23 221.18H367.63M364.43 217.98V224.38M372.81 221.18H379.21M376.01 217.98V224.38M384.41 221.18H390.81M387.61 217.98V224.38M396.00 221.18H402.40M399.20 217.98V224.38M407.58 221.18H413.98M410.78 217.98V224.38M419.18 221.18H425.57M422.38 217.98V224.38M430.77 221.18H437.17M433.97 217.98V224.38M442.35 221.18H448.75M445.55 217.98V224.38M453.94 221.18H460.34M457.14 217.98V224.38M465.54 221.18H471.94M468.74 217.98V224.38M465.69 218.12L471.79 224.23M465.69 224.23L471.79 218.12M477.13 221.18H483.53M480.33 217.98V224.38M477.28 218.12L483.38 224.23M477.28 224.23L483.38 218.12M488.72 221.18H495.12M491.92 217.98V224.38M488.87 218.12L494.97 224.23M488.87 224.23L494.97 218.12M500.31 221.18H506.70M503.50 217.98V224.38M500.45 218.12L506.56 224.23M500.45 224.23L506.56 218.12M511.90 221.18H518.30M515.10 217.98V224.38M512.05 218.12L518.14 224.23M512.05 224.23L518.14 218.12M523.48 221.18H529.88M526.68 217.98V224.38M523.63 218.12L529.73 224.23M523.63 224.23L529.73 218.12M535.07 221.18H541.48M538.27 217.98V224.38M535.23 218.12L541.32 224.23M535.23 224.23L541.32 218.12M546.66 221.18H553.07M549.87 217.98V224.38M546.82 218.12L552.91 224.23M546.82 224.23L552.91 218.12M558.25 221.18H564.66M561.46 217.98V224.38M558.41 218.12L564.50 224.23M558.41 224.23L564.50 218.12M569.85 221.18H576.25M573.05 217.98V224.38M581.43 221.18H587.84M584.63 217.98V224.38M593.02 221.18H599.43M596.23 217.98V224.38M604.62 221.18H611.02M607.82 217.98V224.38M616.20 221.18H622.61M619.40 217.98V224.38M627.79 221.18H634.20M631.00 217.98V224.38M639.38 221.18H645.79M642.59 217.98V224.38M650.97 221.18H657.38M654.17 217.98V224.38M662.56 221.18H668.97M665.76 217.98V224.38M674.15 221.18H680.56M677.36 217.98V224.38M685.74 221.18H692.14M688.94 217.98V224.38M697.33 221.18H703.74M700.53 217.98V224.38M708.92 221.18H715.33M712.12 217.98V224.38M349.64 197.65H356.04M352.84 194.45V200.85M361.23 197.65H367.63M364.43 194.45V200.85M372.81 197.65H379.21M376.01 194.45V200.85M384.41 197.65H390.81M387.61 194.45V200.85M396.00 197.65H402.40M399.20 194.45V200.85M407.58 197.65H413.98M410.78 194.45V200.85M419.18 197.65H425.57M422.38 194.45V200.85M430.77 197.65H437.17M433.97 194.45V200.85M442.35 197.65H448.75M445.55 194.45V200.85M453.94 197.65H460.34M457.14 194.45V200.85M465.54 197.65H471.94M468.74 194.45V200.85M477.13 197.65H483.53M480.33 194.45V200.85M488.72 197.65H495.12M491.92 194.45V200.85M500.31 197.65H506.70M503.50 194.45V200.85M511.90 197.65H518.30M515.10 194.45V200.85M523.48 197.65H529.88M526.68 194.45V200.85M535.07 197.65H541.48M538.27 194.45V200.85M546.66 197.65H553.07M549.87 194.45V200.85M558.25 197.65H564.66M561.46 194.45V200.85M569.85 197.65H576.25M573.05 194.45V200.85M581.43 197.65H587.84M584.63 194.45V200.85M593.02 197.65H599.43M596.23 194.45V200.85M604.62 197.65H611.02M607.82 194.45V200.85M616.20 197.65H622.61M619.40 194.45V200.85M627.79 197.65H634.20M631.00 194.45V200.85M639.38 197.65H645.79M642.59 194.45V200.85M650.97 197.65H657.38M654.17 194.45V200.85M662.56 197.65H668.97M665.76 194.45V200.85M674.15 197.65H680.56M677.36 194.45V200.85M685.74 197.65H692.14M688.94 194.45V200.85M697.33 197.65H703.74M700.53 194.45V200.85M708.92 197.65H715.33M712.12 194.45V200.85M720.51 197.65H726.92M723.72 194.45V200.85M361.23 174.12H367.63M364.43 170.93V177.32M372.81 174.12H379.21M376.01 170.93V177.32M384.41 174.12H390.81M387.61 170.93V177.32M396.00 174.12H402.40M399.20 170.93V177.32M407.58 174.12H413.98M410.78 170.93V177.32M419.18 174.12H425.57M422.38 170.93V177.32M430.77 174.12H437.17M433.97 170.93V177.32M442.35 174.12H448.75M445.55 170.93V177.32M453.94 174.12H460.34M457.14 170.93V177.32M465.54 174.12H471.94M468.74 170.93V177.32M477.13 174.12H483.53M480.33 170.93V177.32M488.72 174.12H495.12M491.92 170.93V177.32M500.31 174.12H506.70M503.50 170.93V177.32M511.90 174.12H518.30M515.10 170.93V177.32M523.48 174.12H529.88M526.68 170.93V177.32M535.07 174.12H541.48M538.27 170.93V177.32M546.66 174.12H553.07M549.87 170.93V177.32M558.25 174.12H564.66M561.46 170.93V177.32M569.85 174.12H576.25M573.05 170.93V177.32M581.43 174.12H587.84M584.63 170.93V177.32M593.02 174.12H599.43M596.23 170.93V177.32M604.62 174.12H611.02M607.82 170.93V177.32M616.20 174.12H622.61M619.40 170.93V177.32M627.79 174.12H634.20M631.00 170.93V177.32M639.38 174.12H645.79M642.59 170.93V177.32M650.97 174.12H657.38M654.17 170.93V177.32M662.56 174.12H668.97M665.76 170.93V177.32M674.15 174.12H680.56M677.36 170.93V177.32M685.74 174.12H692.14M688.94 170.93V177.32M697.33 174.12H703.74M700.53 170.93V177.32M708.92 174.12H715.33M712.12 170.93V177.32M720.51 174.12H726.92M723.72 170.93V177.32M407.58 150.60H413.98M410.78 147.40V153.80M419.18 150.60H425.57M422.38 147.40V153.80M430.77 150.60H437.17M433.97 147.40V153.80M442.35 150.60H448.75M445.55 147.40V153.80M453.94 150.60H460.34M457.14 147.40V153.80M465.54 150.60H471.94M468.74 147.40V153.80M477.13 150.60H483.53M480.33 147.40V153.80M488.72 150.60H495.12M491.92 147.40V153.80M500.31 150.60H506.70M503.50 147.40V153.80M511.90 150.60H518.30M515.10 147.40V153.80M523.48 150.60H529.88M526.68 147.40V153.80M535.07 150.60H541.48M538.27 147.40V153.80M546.66 150.60H553.07M549.87 147.40V153.80M558.25 150.60H564.66M561.46 147.40V153.80M569.85 150.60H576.25M573.05 147.40V153.80M581.43 150.60H587.84M584.63 147.40V153.80M593.02 150.60H599.43M596.23 147.40V153.80M604.62 150.60H611.02M607.82 147.40V153.80M616.20 150.60H622.61M619.40 147.40V153.80M627.79 150.60H634.20M631.00 147.40V153.80M639.38 150.60H645.79M642.59 147.40V153.80M650.97 150.60H657.38M654.17 147.40V153.80M662.56 150.60H668.97M665.76 147.40V153.80M674.15 150.60H680.56M677.36 147.40V153.80M685.74 150.60H692.14M688.94 147.40V153.80M697.33 150.60H703.74M700.53 147.40V153.80M500.31 127.07H506.70M503.50 123.87V130.27M511.90 127.07H518.30M515.10 123.87V130.27M523.48 127.07H529.88M526.68 123.87V130.27M535.07 127.07H541.48M538.27 123.87V130.27M546.66 127.07H553.07M549.87 123.87V130.27M558.25 127.07H564.66M561.46 123.87V130.27M569.85 127.07H576.25M573.05 123.87V130.27M581.43 127.07H587.84M584.63 123.87V130.27M593.02 127.07H599.43M596.23 123.87V130.27"/>
<path stroke="#0f0" d="M175.79 456.43H182.19M178.99 453.23V459.62M175.94 453.38L182.04 459.48M175.94 459.48L182.04 453.38M222.15 432.90H228.54M225.34 429.70V436.10M222.29 429.85L228.40 435.95M222.29 435.95L228.40 429.85M233.74 432.90H240.13M236.94 429.70V436.10M233.88 429.85L239.99 435.95M233.88 435.95L239.99 429.85M245.33 432.90H251.72M248.53 429.70V436.10M245.47 429.85L251.58 435.95M245.47 435.95L251.58 429.85M268.50 409.38H274.90M271.70 406.18V412.57M268.65 406.32L274.75 412.43M268.65 412.43L274.75 406.32M280.10 409.38H286.50M283.30 406.18V412.57M280.25 406.32L286.35 412.43M280.25 412.43L286.35 406.32M291.69 409.38H298.08M294.88 406.18V412.57M291.83 406.32L297.94 412.43M291.83 412.43L297.94 406.32M303.28 409.38H309.68M306.48 406.18V412.57M303.43 406.32L309.53 412.43M303.43 412.43L309.53 406.32M314.87 409.38H321.26M318.06 406.18V412.57M315.01 406.32L321.12 412.43M315.01 412.43L321.12 406.32M303.28 385.85H309.68M306.48 382.65V389.05M303.43 382.80L309.53 388.90M303.43 388.90L309.53 382.80M314.87 385.85H321.26M318.06 382.65V389.05M315.01 382.80L321.12 388.90M315.01 388.90L321.12 382.80M326.45 385.85H332.85M329.65 382.65V389.05M326.60 382.80L332.70 388.90M326.60 388.90L332.70 382.80M338.05 385.85H344.44M341.25 382.65V389.05M338.19 382.80L344.30 388.90M338.19 388.90L344.30 382.80M349.64 385.85H356.04M352.84 382.65V389.05M349.79 382.80L355.89 388.90M349.79 388.90L355.89 382.80M361.23 385.85H367.63M364.43 382.65V389.05M361.38 382.80L367.48 388.90M361.38 388.90L367.48 382.80M372.81 385.85H379.21M376.01 382.65V389.05M372.96 382.80L379.06 388.90M372.96 388.90L379.06 382.80M384.41 385.85H390.81M387.61 382.65V389.05M384.56 382.80L390.66 388.90M384.56 388.90L390.66 382.80M349.64 362.32H356.04M352.84 359.12V365.52M349.79 359.27L355.89 365.38M349.79 365.38L355.89 359.27M361.23 362.32H367.63M364.43 359.12V365.52M361.38 359.27L367.48 365.38M361.38 365.38L367.48 359.27M372.81 362.32H379.21M376.01 359.12V365.52M372.96 359.27L379.06 365.38M372.96 365.38L379.06 359.27M384.41 362.32H390.81M387.61 359.12V365.52M384.56 359.27L390.66 365.38M384.56 365.38L390.66 359.27M396.00 362.32H402.40M399.20 359.12V365.52M396.15 359.27L402.25 365.38M396.15 365.38L402.25 359.27M407.58 362.32H413.98M410.78 359.12V365.52M407.73 359.27L413.83 365.38M407.73 365.38L413.83 359.27M419.18 362.32H425.57M422.38 359.12V365.52M419.32 359.27L425.43 365.38M419.32 365.38L425.43 359.27M430.77 362.32H437.17M433.97 359.12V365.52M430.92 359.27L437.02 365.38M430.92 365.38L437.02 359.27M442.35 362.32H448.75M445.55 359.12V365.52M442.50 359.27L448.60 365.38M442.50 365.38L448.60 359.27M396.00 338.80H402.40M399.20 335.60V342.00M396.15 335.75L402.25 341.85M396.15 341.85L402.25 335.75M407.58 338.80H413.98M410.78 335.60V342.00M407.73 335.75L413.83 341.85M407.73 341.85L413.83 335.75M419.18 338.80H425.57M422.38 335.60V342.00M419.32 335.75L425.43 341.85M419.32 341.85L425.43 335.75M430.77 338.80H437.17M433.97 335.60V342.00M430.92 335.75L437.02 341.85M430.92 341.85L437.02 335.75M442.35 338.80H448.75M445.55 335.60V342.00M442.50 335.75L448.60 341.85M442.50 341.85L448.60 335.75M453.94 338.80H460.34M457.14 335.60V342.00M454.09 335.75L460.19 341.85M454.09 341.85L460.19 335.75M465.54 338.80H471.94M468.74 335.60V342.00M465.69 335.75L471.79 341.85M465.69 341.85L471.79 335.75M477.13 338.80H483.53M480.33 335.60V342.00M477.28 335.75L483.38 341.85M477.28 341.85L483.38 335.75M488.72 338.80H495.12M491.92 335.60V342.00M488.87 335.75L494.97 341.85M488.87 341.85L494.97 335.75M500.31 338.80H506.70M503.50 335.60V342.00M500.45 335.75L506.56 341.85M500.45 341.85L506.56 335.75M511.90 338.80H518.30M515.10 335.60V342.00M512.05 335.75L518.14 341.85M512.05 341.85L518.14 335.75M453.94 315.27H460.34M457.14 312.07V318.47M454.09 312.22L460.19 318.32M454.09 318.32L460.19 312.22M465.54 315.27H471.94M468.74 312.07V318.47M465.69 312.22L471.79 318.32M465.69 318.32L471.79 312.22M477.13 315.27H483.53M480.33 312.07V318.47M477.28 312.22L483.38 318.32M477.28 318.32L483.38 312.22M488.72 315.27H495.12M491.92 312.07V318.47M488.87 312.22L494.97 318.32M488.87 318.32L494.97 312.22M500.31 315.27H506.70M503.50 312.07V318.47M500.45 312.22L506.56 318.32M500.45 318.32L506.56 312.22M511.90 315.27H518.30M515.10 312.07V318.47M512.05 312.22L518.14 318.32M512.05 318.32L518.14 312.22M523.48 315.27H529.88M526.68 312.07V318.47M523.63 312.22L529.73 318.32M523.63 318.32L529.73 312.22M535.07 315.27H541.48M538.27 312.07V318.47M535.23 312.22L541.32 318.32M535.23 318.32L541.32 312.22M546.66 315.27H553.07M549.87 312.07V318.47M546.82 312.22L552.91 318.32M546.82 318.32L552.91 312.22M558.25 315.27H564.66M561.46 312.07V318.47M558.41 312.22L564.50 318.32M558.41 318.32L564.50 312.22M569.85 315.27H576.25M573.05 312.07V318.47M570.00 312.22L576.10 318.32M570.00 318.32L576.10 312.22M535.07 291.75H541.48M538.27 288.55V294.95M535.23 288.70L541.32 294.80M535.23 294.80L541.32 288.70M546.66 291.75H553.07M549.87 288.55V294.95M546.82 288.70L552.91 294.80M546.82 294.80L552.91 288.70M558.25 291.75H564.66M561.46 288.55V294.95M558.41 288.70L564.50 294.80M558.41 294.80L564.50 288.70M569.85 291.75H576.25M573.05 288.55V294.95M570.00 288.70L576.10 294.80M570.00 294.80L576.10 288.70M581.43 291.75H587.84M584.63 288.55V294.95M581.59 288.70L587.68 294.80M581.59 294.80L587.68 288.70M593.02 291.75H599.43M596.23 288.55V294.95M593.18 288.70L599.27 294.80M593.18 294.80L599.27 288.70M604.62 291.75H611.02M607.82 288.55V294.95M604.77 288.70L610.87 294.80M604.77 294.80L610.87 288.70M616.20 291.75H622.61M619.40 288.55V294.95M616.36 288.70L622.45 294.80M616.36 294.80L622.45 288.70M627.79 291.75H634.20M631.00 288.55V294.95M627.95 288.70L634.04 294.80M627.95 294.80L634.04 288.70"/>
<path stroke="#f00" d="M128.62 479.95a4.0 4.0 0 1 0 8.0 0a4.0 4.0 0 1 0 -8.0 0M140.22 479.95a4.0 4.0 0 1 0 8.0 0a4.0 4.0 0 1 0 -8.0 0M140.22 456.43a4.0 4.0 0 1 0 8.0 0a4.0 4.0 0 1 0 -8.0 0M151.81 456.43a4.0 4.0 0 1 0 8.0 0a4.0 4.0 0 1 0 -8.0 0M163.40 456.43a4.0 4.0 0 1 0 8.0 0a4.0 4.0 0 1 0 -8.0 0M174.99 456.43a4.0 4.0 0 1 0 8.0 0a4.0 4.0 0 1 0 -8.0 0M151.81 432.90a4.0 4.0 0 1 0 8.0 0a4.0 4.0 0 1 0 -8.0 0M163.40 432.90a4.0 4.0 0 1 0 8.0 0a4.0 4.0 0 1 0 -8.0 0M174.99 432.90a4.0 4.0 0 1 0 8.0 0a4.0 4.0 0 1 0 -8.0 0M186.57 432.90a4.0 4.0 0 1 0 8.0 0a4.0 4.0 0 1 0 -8.0 0M198.17 432.90a4.0 4.0 0 1 0 8.0 0a4.0 4.0 0 1 0 -8.0 0M209.75 432.90a4.0 4.0 0 1 0 8.0 0a4.0 4.0 0 1 0 -8.0 0M221.34 432.90a4.0 4.0 0 1 0 8.0 0a4.0 4.0 0 1 0 -8.0 0M163.40 409.38a4.0 4.0 0 1 0 8.0 0a4.0 4.0 0 1 0 -8.0 0M174.99 409.38a4.0 4.0 0 1 0 8.0 0a4.0 4.0 0 1 0 -8.0 0M186.57 409.38a4.0 4.0 0 1 0 8.0 0a4.0 4.0 0 1 0 -8.0 0M198.17 409.38a4.0 4.0 0 1 0 8.0 0a4.0 4.0 0 1 0 -8.0 0M209.75 409.38a4.0 4.0 0 1 0 8.0 0a4.0 4.0 0 1 0 -8.0 0M221.34 409.38a4.0 4.0 0 1 0 8.0 0a4.0 4.0 0 1 0 -8.0 0M232.94 409.38a4.0 4.0 0 1 0 8.0 0a4.0 4.0 0 1 0 -8.0 0M244.53 409.38a4.0 4.0 0 1 0 8.0 0a4.0 4.0 0 1 0 -8.0 0M256.12 409.38a4.0 4.0 0 1 0 8.0 0a4.0 4.0 0 1 0 -8.0 0M186.57 385.85a4.0 4.0 0 1 0 8.0 0a4.0 4.0 0 1 0 -8.0 0M198.17 385.85a4.0 4.0 0 1 0 8.0 0a4.0 4.0 0 1 0 -8.0 0M209.75 385.85a4.0 4.0 0 1 0 8.0 0a4.0 4.0 0 1 0 -8.0 0M221.34 385.85a4.0 4.0 0 1 0 8.0 0a4.0 4.0 0 1 0 -8.0 0M232.94 385.85a4.0 4.0 0 1 0 8.0 0a4.0 4.0 0 1 0 -8.0 0M244.53 385.85a4.0 4.0 0 1 0 8.0 0a4.0 4.0 0 1 0 -8.0 0M256.12 385.85a4.0 4.0 0 1 0 8.0 0a4.0 4.0 0 1 0 -8.0 0M267.70 385.85a4.0 4.0 0 1 0 8.0 0a4.0 4.0 0 1 0 -8.0 0M279.30 385.85a4.0 4.0 0 1 0 8.0 0a4.0 4.0 0 1 0 -8.0 0M290.88 385.85a4.0 4.0 0 1 0 8.0 0a4.0 4.0 0 1 0 -8.0 0M302.48 385.85a4.0 4.0 0 1 0 8.0 0a4.0 4.0 0 1 0 -8.0 0M209.75 362.32a4.0 4.0 0 1 0 8.0 0a4.0 4.0 0 1 0 -8.0 0M221.34 362.32a4.0 4.0 0 1 0 8.0 0a4.0 4.0 0 1 0 -8.0 0M232.94 362.32a4.0 4.0 0 1 0 8.0 0a4.0 4.0 0 1 0 -8.0 0M244.53 362.32a4.0 4.0 0 1 0 8.0 0a4.0 4.0 0 1 0 -8.0 0M256.12 362.32a4.0 4.0 0 1 0 8.0 0a4.0 4.0 0 1 0 -8.0 0M267.70 362.32a4.0 4.0 0 1 0 8.0 0a4.0 4.0 0 1 0 -8.0 0M279.30 362.32a4.0 4.0 0 1 0 8.0 0a4.0 4.0 0 1 0 -8.0 0M290.88 362.32a4.0 4.0 0 1 0 8.0 0a4.0 4.0 0 1 0 -8.0 0M302.48 362.32a4.0 4.0 0 1 0 8.0 0a4.0 4.0 0 1 0 -8.0 0M314.06 362.32a4.0 4.0 0 1 0 8.0 0a4.0 4.0 0 1 0 -8.0 0M325.65 362.32a4.0 4.0 0 1 0 8.0 0a4.0 4.0 0 1 0 -8.0 0M337.25 362.32a4.0 4.0 0 1 0 8.0 0a4.0 4.0 0 1 0 -8.0 0M348.84 362.32a4.0 4.0 0 1 0 8.0 0a4.0 4.0 0 1 0 -8.0 0M221.34 338.80a4.0 4.0 0 1 0 8.0 0a4.0 4.0 0 1 0 -8.0 0M232.94 338.80a4.0 4.0 0 1 0 8.0 0a4.0 4.0 0 1 0 -8.0 0M244.53 338.80a4.0 4.0 0 1 0 8.0 0a4.0 4.0 0 1 0 -8.0 0M256.12 338.80a4.0 4.0 0 1 0 8.0 0a4.0 4.0 0 1 0 -8.0 0M267.70 338.80a4.0 4.0 0 1 0 8.0 0a4.0 4.0 0 1 0 -8.0 0M279.30 338.80a4.0 4.0 0 1 0 8.0 0a4.0 4.0 0 1 0 -8.0 0M290.88 338.80a4.0 4.0 0 1 0 8.0 0a4.0 4.0 0 1 0 -8.0 0M302.48 338.80a4.0 4.0 0 1 0 8.0 0a4.0 4.0 0 1 0 -8.0 0M314.06 338.80a4.0 4.0 0 1 0 8.0 0a4.0 4.0 0 1 0 -8.0 0M325.65 338.80a4.0 4.0 0 1 0 8.0 0a4.0 4.0 0 1 0 -8.0 0M337.25 338.80a4.0 4.0 0 1 0 8.0 0a4.0 4.0 0 1 0 -8.0 0M348.84 338.80a4.0 4.0 0 1 0 8.0 0a4.0 4.0 0 1 0 -8.0 0M360.43 338.80a4.0 4.0 0 1 0 8.0 0a4.0 4.0 0 1 0 -8.0 0M372.01 338.80a4.0 4.0 0 1 0 8.0 0a4.0 4.0 0 1 0 -8.0 0M383.61 338.80a4.0 4.0 0 1 0 8.0 0a4.0 4.0 0 1 0 -8.0 0M395.20 338.80a4.0 4.0 0 1 0 8.0 0a4.0 4.0 0 1 0 -8.0 0M406.78 338.80a4.0 4.0 0 1 0 8.0 0a4.0 4.0 0 1 0 -8.0 0M244.53 315.27a4.0 4.0 0 1 0 8.0 0a4.0 4.0 0 1 0 -8.0 0M256.12 315.27a4.0 4.0 0 1 0 8.0 0a4.0 4.0 0 1 0 -8.0 0M267.70 315.27a4.0 4.0 0 1 0 8.0 0a4.0 4.0 0 1 0 -8.0 0M279.30 315.27a4.0 4.0 0 1 0 8.0 0a4.0 4.0 0 1 0 -8.0 0M290.88 315.27a4.0 4.0 0 1 0 8.0 0a4.0 4.0 0 1 0 -8.0 0M302.48 315.27a4.0 4.0 0 1 0 8.0 0a4.0 4.0 0 1 0 -8.0 0M314.06 315.27a4.0 4.0 0 1 0 8.0 0a4.0 4.0 0 1 0 -8.0 0M325.65 315.27a4.0 4.0 0 1 0 8.0 0a4.0 4.0 0 1 0 -8.0 0M337.25 315.27a4.0 4.0 0 1 0 8.0 0a4.0 4.0 0 1 0 -8.0 0M348.84 315.27a4.0 4.0 0 1 0 8.0 0a4.0 4.0 0 1 0 -8.0 0M360.43 315.27a4.0 4.0 0 1 0 8.0 0a4.0 4.0 0 1 0 -8.0 0M372.01 315.27a4.0 4.0 0 1 0 8.0 0a4.0 4.0 0 1 0 -8.0 0M383.61 315.27a4.0 4.0 0 1 0 8.0 0a4.0 4.0 0 1 0 -8.0 0M395.20 315.27a4.0 4.0 0 1 0 8.0 0a4.0 4.0 0 1 0 -8.0 0M406.78 315.27a4.0 4.0 0 1 0 8.0 0a4.0 4.0 0 1 0 -8.0 0M418.38 315.27a4.0 4.0 0 1 0 8.0 0a4.0 4.0 0 1 0 -8.0 0M429.97 315.27a4.0 4.0 0 1 0 8.0 0a4.0 4.0 0 1 0 -8.0 0M441.55 315.27a4.0 4.0 0 1 0 8.0 0a4.0 4.0 0 1 0 -8.0 0M453.14 315.27a4.0 4.0 0 1 0 8.0 0a4.0 4.0 0 1 0 -8.0 0M464.74 315.27a4.0 4.0 0 1 0 8.0 0a4.0 4.0 0 1 0 -8.0 0M290.88 291.75a4.0 4.0 0 1 0 8.0 0a4.0 4.0 0 1 0 -8.0 0M302.48 291.75a4.0 4.0 0 1 0 8.0 0a4.0 4.0 0 1 0 -8.0 0M314.06 291.75a4.0 4.0 0 1 0 8.0 0a4.0 4.0 0 1 0 -8.0 0M325.65 291.75a4.0 4.0 0 1 0 8.0 0a4.0 4.0 0 1 0 -8.0 0M337.25 291.75a4.0 4.0 0 1 0 8.0 0a4.0 4.0 0 1 0 -8.0 0M348.84 291.75a4.0 4.0 0 1 0 8.0 0a4.0 4.0 0 1 0 -8.0 0M360.43 291.75a4.0 4.0 0 1 0 8.0 0a4.0 4.0 0 1 0 -8.0 0M372.01 291.75a4.0 4.0 0 1 0 8.0 0a4.0 4.0 0 1 0 -8.0 0M383.61 291.75a4.0 4.0 0 1 0 8.0 0a4.0 4.0 0 1 0 -8.0 0M395.20 291.75a4.0 4.0 0 1 0 8.0 0a4.0 4.0 0 1 0 -8.0 0M406.78 291.75a4.0 4.0 0 1 0 8.0 0a4.0 4.0 0 1 0 -8.0 0M418.38 291.75a4.0 4.0 0 1 0 8.0 0a4.0 4.0 0 1 0 -8.0 0M429.97 291.75a4.0 4.0 0 1 0 8.0 0a4.0 4.0 0 1 0 -8.0 0M441.55 291.75a4.0 4.0 0 1 0 8.0 0a4.0 4.0 0 1 0 -8.0 0M453.14 291.75a4.0 4.0 0 1 0 8.0 0a4.0 4.0 0 1 0 -8.0 0M464.74 291.75a4.0 4.0 0 1 0 8.0 0a4.0 4.0 0 1 0 -8.0 0M476.33 291.75a4.0 4.0 0 1 0 8.0 0a4.0 4.0 0 1 0 -8.0 0M487.92 291.75a4.0 4.0 0 1 0 8.0 0a4.0 4.0 0 1 0 -8.0 0M499.50 291.75a4.0 4.0 0 1 0 8.0 0a4.0 4.0 0 1 0 -8.0 0M511.10 291.75a4.0 4.0 0 1 0 8.0 0a4.0 4.0 0 1 0 -8.0 0M522.68 291.75a4.0 4.0 0 1 0 8.0 0a4.0 4.0 0 1 0 -8.0 0M534.27 291.75a4.0 4.0 0 1 0 8.0 0a4.0 4.0 0 1 0 -8.0 0M545.87 291.75a4.0 4.0 0 1 0 8.0 0a4.0 4.0 0 1 0 -8.0 0M557.46 291.75a4.0 4.0 0 1 0 8.0 0a4.0 4.0 0 1 0 -8.0 0M569.05 291.75a4.0 4.0 0 1 0 8.0 0a4.0 4.0 0 1 0 -8.0 0M360.43 268.23a4.0 4.0 0 1 0 8.0 0a4.0 4.0 0 1 0 -8.0 0M372.01 268.23a4.0 4.0 0 1 0 8.0 0a4.0 4.0 0 1 0 -8.0 0M383.61 268.23a4.0 4.0 0 1 0 8.0 0a4.0 4.0 0 1 0 -8.0 0M395.20 268.23a4.0 4.0 0 1 0 8.0 0a4.0 4.0 0 1 0 -8.0 0M406.78 268.23a4.0 4.0 0 1 0 8.0 0a4.0 4.0 0 1 0 -8.0 0M418.38 268.23a4.0 4.0 0 1 0 8.0 0a4.0 4.0 0 1 0 -8.0 0M429.97 268.23a4.0 4.0 0 1 0 8.0 0a4.0 4.0 0 1 0 -8.0 0M441.55 268.23a4.0 4.0 0 1 0 8.0 0a4.0 4.0 0 1 0 -8.0 0M453.14 268.23a4.0 4.0 0 1 0 8.0 0a4.0 4.0 0 1 0 -8.0 0M464.74 268.23a4.0 4.0 0 1 0 8.0 0a4.0 4.0 0 1 0 -8.0 0M476.33 268.23a4.0 4.0 0 1 0 8.0 0a4.0 4.0 0 1 0 -8.0 0M487.92 268.23a4.0 4.0 0 1 0 8.0 0a4.0 4.0 0 1 0 -8.0 0M499.50 268.23a4.0 4.0 0 1 0 8.0 0a4.0 4.0 0 1 0 -8.0 0M511.10 268.23a4.0 4.0 0 1 0 8.0 0a4.0 4.0 0 1 0 -8.0 0M522.68 268.23a4.0 4.0 0 1 0 8.0 0a4.0 4.0 0 1 0 -8.0 0M534.27 268.23a4.0 4.0 0 1 0 8.0 0a4.0 4.0 0 1 0 -8.0 0M545.87 268.23a4.0 4.0 0 1 0 8.0 0a4.0 4.0 0 1 0 -8.0 0M557.46 268.23a4.0 4.0 0 1 0 8.0 0a4.0 4.0 0 1 0 -8.0 0M569.05 268.23a4.0 4.0 0 1 0 8.0 0a4.0 4.0 0 1 0 -8.0 0M580.63 268.23a4.0 4.0 0 1 0 8.0 0a4.0 4.0 0 1 0 -8.0 0M592.23 268.23a4.0 4.0 0 1 0 8.0 0a4.0 4.0 0 1 0 -8.0 0"/>
<path stroke="#0f0" d="M186.57 456.43a4.0 4.0 0 1 0 8.0 0a4.0 4.0 0 1 0 -8.0 0M198.17 456.43a4.0 4.0 0 1 0 8.0 0a4.0 4.0 0 1 0 -8.0 0M232.94 432.90a4.0 4.0 0 1 0 8.0 0a4.0 4.0 0 1 0 -8.0 0M244.53 432.90a4.0 4.0 0 1 0 8.0 0a4.0 4.0 0 1 0 -8.0 0M256.12 432.90a4.0 4.0 0 1 0 8.0 0a4.0 4.0 0 1 0 -8.0 0M267.70 432.90a4.0 4.0 0 1 0 8.0 0a4.0 4.0 0 1 0 -8.0 0M267.70 409.38a4.0 4.0 0 1 0 8.0 0a4.0 4.0 0 1 0 -8.0 0M279.30 409.38a4.0 4.0 0 1 0 8.0 0a4.0 4.0 0 1 0 -8.0 0M290.88 409.38a4.0 4.0 0 1 0 8.0 0a4.0 4.0 0 1 0 -8.0 0M302.48 409.38a4.0 4.0 0 1 0 8.0 0a4.0 4.0 0 1 0 -8.0 0M314.06 409.38a4.0 4.0 0 1 0 8.0 0a4.0 4.0 0 1 0 -8.0 0M325.65 409.38a4.0 4.0 0 1 0 8.0 0a4.0 4.0 0 1 0 -8.0 0M314.06 385.85a4.0 4.0 0 1 0 8.0 0a4.0 4.0 0 1 0 -8.0 0M325.65 385.85a4.0 4.0 0 1 0 8.0 0a4.0 4.0 0 1 0 -8.0 0M337.25 385.85a4.0 4.0 0 1 0 8.0 0a4.0 4.0 0 1 0 -8.0 0M348.84 385.85a4.0 4.0 0 1 0 8.0 0a4.0 4.0 0 1 0 -8.0 0M360.43 385.85a4.0 4.0 0 1 0 8.0 0a4.0 4.0 0 1 0 -8.0 0M372.01 385.85a4.0 4.0 0 1 0 8.0 0a4.0 4.0 0 1 0 -8.0 0M383.61 385.85a4.0 4.0 0 1 0 8.0 0a4.0 4.0 0 1 0 -8.0 0M395.20 385.85a4.0 4.0 0 1 0 8.0 0a4.0 4.0 0 1 0 -8.0 0M360.43 362.32a4.0 4.0 0 1 0 8.0 0a4.0 4.0 0 1 0 -8.0 0M372.01 362.32a4.0 4.0 0 1 0 8.0 0a4.0 4.0 0 1 0 -8.0 0M383.61 362.32a4.0 4.0 0 1 0 8.0 0a4.0 4.0 0 1 0 -8.0 0M395.20 362.32a4.0 4.0 0 1 0 8.0 0a4.0 4.0 0 1 0 -8.0 0M406.78 362.32a4.0 4.0 0 1 0 8.0 0a4.0 4.0 0 1 0 -8.0 0M418.38 362.32a4.0 4.0 0 1 0 8.0 0a4.0 4.0 0 1 0 -8.0 0M429.97 362.32a4.0 4.0 0 1 0 8.0 0a4.0 4.0 0 1 0 -8.0 0M441.55 362.32a4.0 4.0 0 1 0 8.0 0a4.0 4.0 0 1 0 -8.0 0M453.14 362.32a4.0 4.0 0 1 0 8.0 0a4.0 4.0 0 1 0 -8.0 0M418.38 338.80a4.0 4.0 0 1 0 8.0 0a4.0 4.0 0 1 0 -8.0 0M429.97 338.80a4.0 4.0 0 1 0 8.0 0a4.0 4.0 0 1 0 -8.0 0M441.55 338.80a4.0 4.0 0 1 0 8.0 0a4.0 4.0 0 1 0 -8.0 0M453.14 338.80a4.0 4.0 0 1 0 8.0 0a4.0 4.0 0 1 0 -8.0 0M464.74 338.80a4.0 4.0 0 1 0 8.0 0a4.0 4.0 0 1 0 -8.0 0M476.33 338.80a4.0 4.0 0 1 0 8.0 0a4.0 4.0 0 1 0 -8.0 0M487.92 338.80a4.0 4.0 0 1 0 8.0 0a4.0 4.0 0 1 0 -8.0 0M499.50 338.80a4.0 4.0 0 1 0 8.0 0a4.0 4.0 0 1 0 -8.0 0M476.33 315.27a4.0 4.0 0 1 0 8.0 0a4.0 4.0 0 1 0 -8.0 0M487.92 315.27a4.0 4.0 0 1 0 8.0 0a4.0 4.0 0 1 0 -8.0 0M499.50 315.27a4.0 4.0 0 1 0 8.0 0a4.0 4.0 0 1 0 -8.0 0M511.10 315.27a4.0 4.0 0 1 0 8.0 0a4.0 4.0 0 1 0 -8.0 0M522.68 315.27a4.0 4.0 0 1 0 8.0 0a4.0 4.0 0 1 0 -8.0 0M534.27 315.27a4.0 4.0 0 1 0 8.0 0a4.0 4.0 0 1 0 -8.0 0M545.87 315.27a4.0 4.0 0 1 0 8.0 0a4.0 4.0 0 1 0 -8.0 0M557.46 315.27a4.0 4.0 0 1 0 8.0 0a4.0 4.0 0 1 0 -8.0 0M580.63 291.75a4.0 4.0 0 1 0 8.0 0a4.0 4.0 0 1 0 -8.0 0M592.23 291.75a4.0 4.0 0 1 0 8.0 0a4.0 4.0 0 1 0 -8.0 0M603.82 291.75a4.0 4.0 0 1 0 8.0 0a4.0 4.0 0 1 0 -8.0 0"/>
</g>
<g fill="none" stroke-width="0.9" stroke-dasharray="9.5 4.2 2 5.3">
<path stroke="#00f" d="M132.8 503.3L140.7 498.4L145.1 495.2L150.1 491.6L156.9 485.2L160.5 481.2L165.4 477.3L173.2 472.3L178.0 468.9L182.8 465.5L194.9 457.2L207.2 449.2L217.5 442.2L230.1 433.5L242.8 425.3L252.4 418.7L265.7 409.4L277.7 401.2L288.0 394.6L308.0 381.2L328.0 367.4L348.0 354.0L376.0 338.0L400.0 323.0L418.0 311.8L436.0 302.4L454.0 290.0L472.0 281.0L490.0 271.0L504.0 264.0L520.0 255.6L540.0 246.4L560.0 236.0L580.0 226.0L600.0 216.0L620.0 205.6L640.0 197.0L653.0 190.6L670.0 183.0L692.4 174.7L700.4 171.3L711.2 165.5L719.6 161.4L730.0 157.0L750.0 149.0L770.0 142.4L790.0 135.0L799.3 131.6"/>
<path stroke="#f0f" d="M144.3 503.3L182.2 485.5L190.7 482.2L201.5 477.3L209.3 473.7L220.5 466.9L228.3 463.3L239.2 458.1L247.6 454.8L258.4 450.0L266.9 446.4L277.7 441.6L286.1 438.0L296.4 432.3L300.0 430.7L320.0 422.3L340.0 414.8L366.0 404.6L454.0 368.0L478.0 359.0L500.0 351.5L520.0 344.0L540.0 336.4L560.0 329.0L580.0 322.4L600.0 315.4L620.0 309.0L640.0 302.0L650.0 299.0L664.0 294.0L676.0 288.0L690.0 279.0L706.0 268.0L720.0 254.0L736.0 238.0L750.0 224.0L760.0 214.0L770.0 198.5L780.0 187.0L788.8 173.0L799.3 161.8"/>
</g>
</svg>
</body></html>
